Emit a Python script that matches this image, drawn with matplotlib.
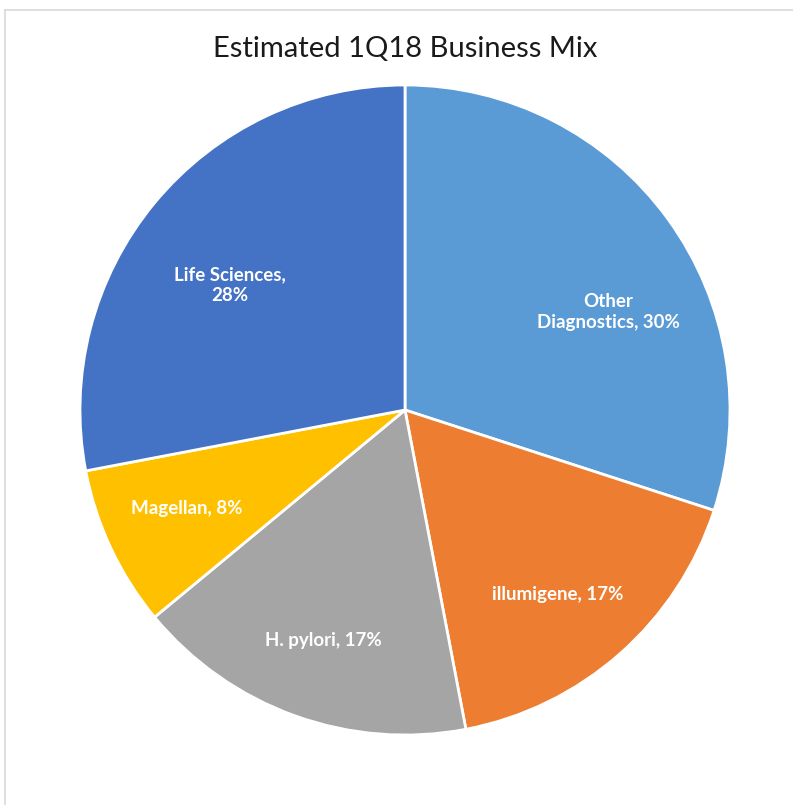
import matplotlib
matplotlib.use("Agg")
import matplotlib.pyplot as plt
from matplotlib.lines import Line2D

# --- data ----------------------------------------------------------------------------------
segments = ["Other\nDiagnostics", "illumigene", "H. pylori", "Magellan", "Life Sciences,\n"]
shares = [30, 17, 17, 8, 28]
colors = ["#5B9BD5", "#ED7D31", "#A5A5A5", "#FFC000", "#4472C4"]

# label anchor points inside the pie (data units, pie radius = 1)
label_xy = [(0.626, 0.302), (0.471, -0.569), (-0.252, -0.708), (-0.671, -0.302), (-0.538, 0.385)]

plt.rcParams["font.family"] = ["Lato", "DejaVu Sans"]

W, H = 793, 805
fig = plt.figure(figsize=(W / 100, H / 100), dpi=100)
fig.patch.set_facecolor("white")

# light chart frame (left + top edges visible in the crop)
fig.add_artist(Line2D([5 / W, 5 / W], [0, 1 - 10 / H], color="#d9d9d9", lw=1.2,
                      transform=fig.transFigure))
fig.add_artist(Line2D([5 / W, 1], [1 - 10 / H, 1 - 10 / H], color="#d9d9d9", lw=1.2,
                      transform=fig.transFigure))

cx, cy, r = 405, 410, 325
ax = fig.add_axes([(cx - r) / W, (H - cy - r) / H, 2 * r / W, 2 * r / H])
ax.pie(shares, colors=colors, startangle=90, counterclock=False, radius=1,
       wedgeprops=dict(edgecolor="white", linewidth=2))
ax.set_xlim(-1, 1)
ax.set_ylim(-1, 1)
ax.set_aspect("equal")
ax.axis("off")

for name, val, (x, y) in zip(segments, shares, label_xy):
    if name.endswith("\n"):
        txt = "{}{}%".format(name, val)
    else:
        txt = "{}, {}%".format(name, val)
    ax.text(x, y, txt, ha="center", va="center", color="white", fontsize=13.5,
            fontweight="bold", linespacing=1.3)

fig.text(cx / W, 1 - 49 / H, "Estimated 1Q18 Business Mix", ha="center", va="center",
         fontsize=21, color="#1a1a1a")

fig.savefig("out.png", dpi=100)
